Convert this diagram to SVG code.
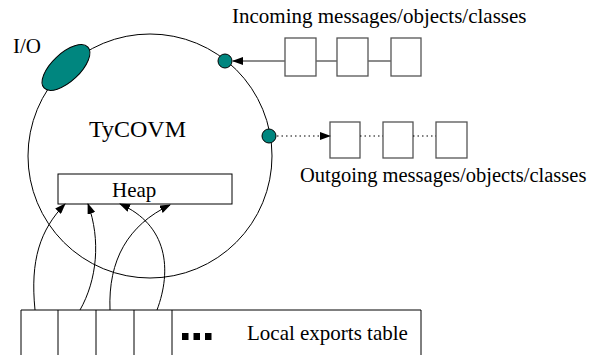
<svg xmlns="http://www.w3.org/2000/svg" width="602" height="355" viewBox="0 0 602 355">
<style>
text{font-family:"Liberation Serif","Times New Roman",serif;font-size:21px;fill:#000}
.ln{fill:none;stroke:#000;stroke-width:1}
.box{fill:#fff;stroke:#555;stroke-width:1.3}
.gl{fill:none;stroke:#666;stroke-width:1.3}
.dl{fill:none;stroke:#000;stroke-width:1.2;stroke-dasharray:1.5 3}
.port{fill:#00867f;stroke:#000;stroke-width:1}
</style>
<defs>
<marker id="ah" markerWidth="11" markerHeight="8" refX="10" refY="4" orient="auto" markerUnits="userSpaceOnUse">
<path d="M0,0 L11,4 L0,8 Z" fill="#000"/>
</marker>
</defs>
<rect width="602" height="355" fill="#fff"/>
<g id="vm">
<circle class="ln" cx="150" cy="156" r="122"/>
<text x="89" y="137" style="font-size:24px">TyCOVM</text>
</g>
<g id="io">
<ellipse class="port" cx="66" cy="67.5" rx="30" ry="14" transform="rotate(-43 66 67.5)"/>
<text x="13" y="53">I/O</text>
</g>
<g id="heap">
<rect class="ln" x="58" y="174" width="174" height="30" fill="#fff"/>
<text x="112" y="197">Heap</text>
</g>
<g id="inport"><circle class="port" cx="225" cy="61" r="7"/></g>
<g id="outport"><circle class="port" cx="269" cy="136" r="7"/></g>
<g id="incoming">
<rect class="box" x="285" y="38" width="31" height="38"/>
<rect class="box" x="337" y="38" width="31" height="38"/>
<rect class="box" x="391" y="38" width="30" height="38"/>
<text x="232" y="23">Incoming messages/objects/classes</text>
</g>
<g id="outgoing">
<rect class="box" x="330" y="122" width="30" height="36"/>
<rect class="box" x="383" y="122" width="30" height="36"/>
<rect class="box" x="436" y="122" width="31" height="36"/>
<text x="300" y="182" style="font-size:20.5px">Outgoing messages/objects/classes</text>
</g>
<g id="exports">
<path class="ln" d="M21,355 V310 H421 V355 M58,310 V355 M96,310 V355 M134,310 V355 M172,310 V355"/>
<rect x="182" y="333" width="6.5" height="7" fill="#000"/>
<rect x="193.5" y="333" width="6.5" height="7" fill="#000"/>
<rect x="205" y="333" width="6.5" height="7" fill="#000"/>
<text x="247" y="340">Local exports table</text>
</g>
<g id="connectors">
<path class="gl" d="M316,61 H337 M368,61 H391"/>
<path class="gl" d="M285,61 H233" marker-end="url(#ah)"/>
<path class="dl" d="M360,136 H383 M413,136 H436"/>
<path class="dl" d="M277,136 H330" marker-end="url(#ah)"/>
<path class="ln" d="M35,310 C30,260 40,230 65,204" marker-end="url(#ah)"/>
<path class="ln" d="M80,310 C97,280 101,240 88,204" marker-end="url(#ah)"/>
<path class="ln" d="M110,310 C108,260 128,225 170,205" marker-end="url(#ah)"/>
<path class="ln" d="M157,310 C172,270 168,225 120,204" marker-end="url(#ah)"/>
</g>
</svg>
